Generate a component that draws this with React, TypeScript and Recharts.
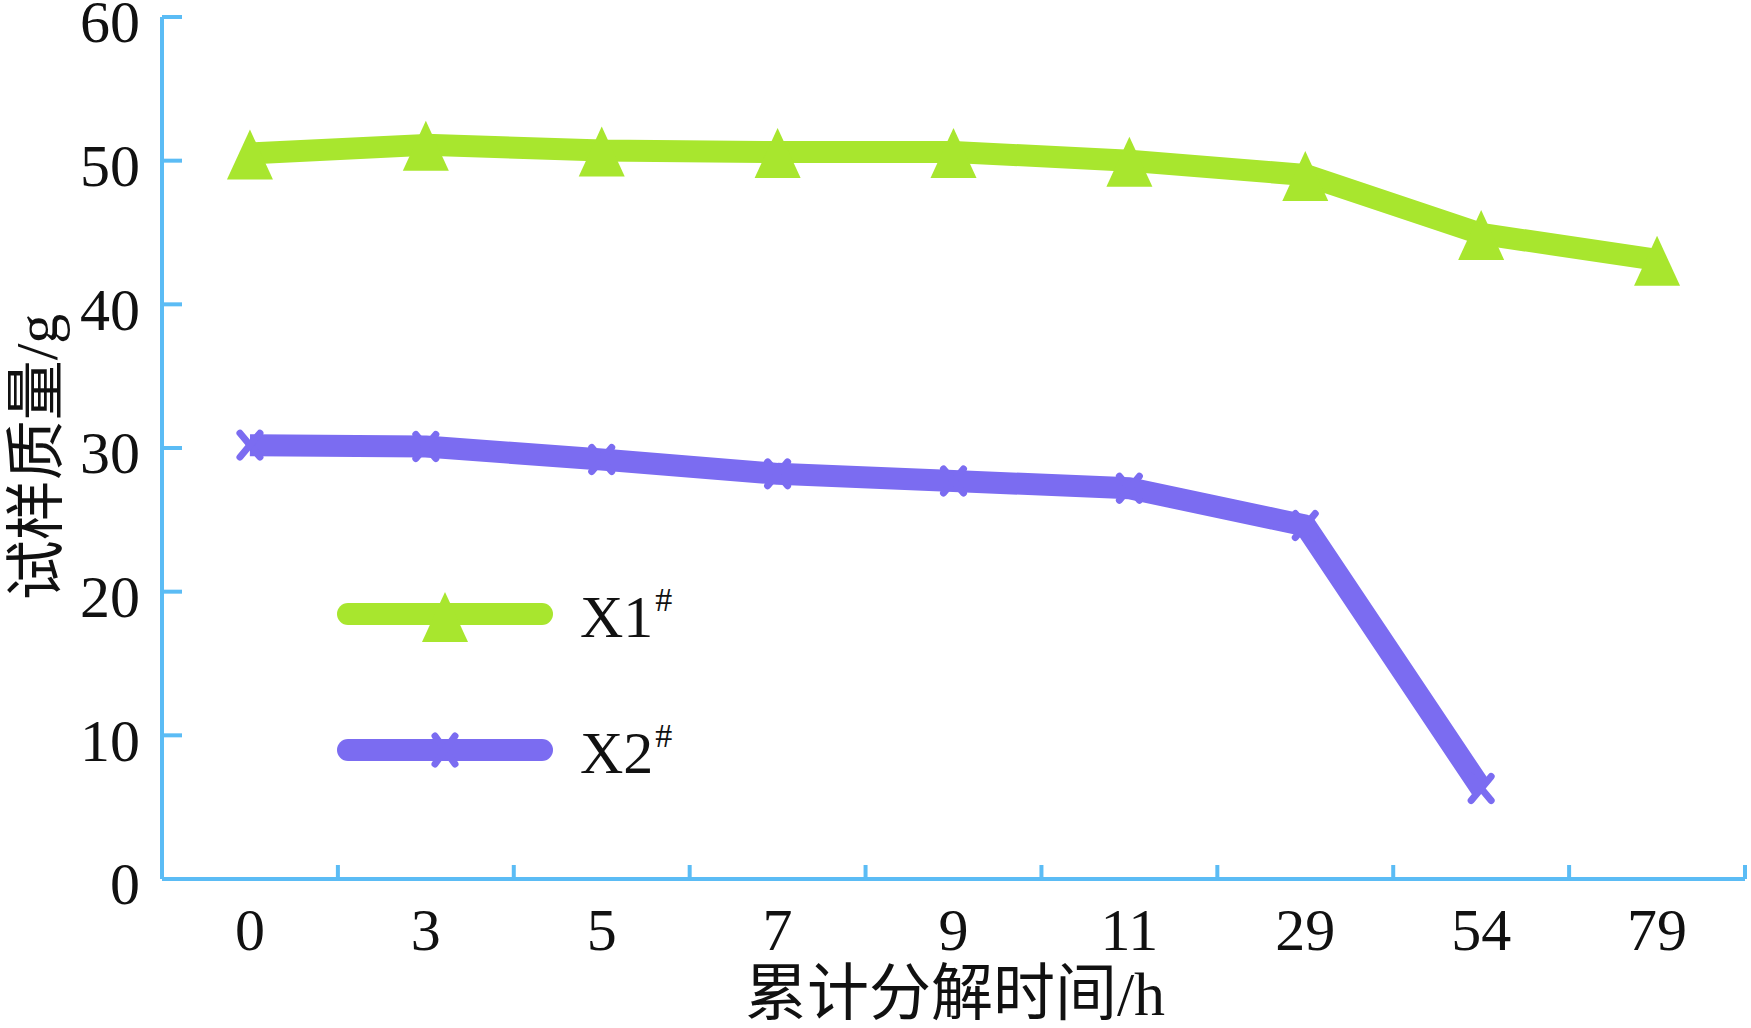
import React from 'react';
import { LineChart, Line, XAxis, YAxis, Legend } from 'recharts';

const categories = ['0', '3', '5', '7', '9', '11', '29', '54', '79'];
const x1Values = [50.5, 51.1, 50.7, 50.6, 50.6, 50.0, 49.0, 44.9, 43.1];
const x2Values = [30.2, 30.1, 29.2, 28.2, 27.7, 27.2, 24.6, 6.3, null];
const yTicks = [0, 10, 20, 30, 40, 50, 60];
const seriesNames = ['X1', 'X2'];

const data = categories.map((t, i) => ({ t, x1: x1Values[i], x2: x2Values[i] }));

const W = 1751;
const H = 1028;
const MARGIN = { top: 17, right: 6, left: 0, bottom: 0 };
const Y_AXIS_W = 162;
const X_AXIS_H = 149;
const BAND = (W - MARGIN.right - Y_AXIS_W) / categories.length;

const GREEN = '#a8e62e';
const PURPLE = '#7b6cf1';
const AXIS = '#5bbcf5';
const FONT = "'Liberation Serif', 'Times New Roman', 'Noto Sans CJK SC', serif";

const triangleDot = (props: any) => {
  const { cx, cy, index } = props;
  if (cx == null || cy == null) return <g key={`t${index}`} />;
  return (
    <polygon
      key={`t${index}`}
      points={`${cx},${cy - 24} ${cx - 23},${cy + 26} ${cx + 23},${cy + 26}`}
      fill={GREEN}
    />
  );
};

const crossDot = (props: any) => {
  const { cx, cy, index } = props;
  if (cx == null || cy == null) return <g key={`c${index}`} />;
  return (
    <g key={`c${index}`} stroke={PURPLE} strokeWidth={7} strokeLinecap="round">
      <line x1={cx - 10} y1={cy - 12} x2={cx + 10} y2={cy + 12} />
      <line x1={cx + 10} y1={cy - 12} x2={cx - 10} y2={cy + 12} />
    </g>
  );
};

const Y_TICK_GAP = 22;
const YTick = (props: any) => {
  const { x, y, payload } = props;
  const ax = x + Y_TICK_GAP;
  return (
    <g>
      <line x1={ax} x2={ax + 20} y1={y} y2={y} stroke={AXIS} strokeWidth={4} />
      <text x={x} y={y} dy="0.42em" textAnchor="end" fontSize={60} fontFamily={FONT} fill="#111">
        {payload.value}
      </text>
    </g>
  );
};

const X_TICK_GAP = 28;
const XTick = (props: any) => {
  const { x, y, payload } = props;
  const ay = y - X_TICK_GAP;
  const bx = x + BAND / 2;
  return (
    <g>
      <line x1={bx} x2={bx} y1={ay} y2={ay - 14} stroke={AXIS} strokeWidth={4} />
      <text x={x} y={y} dy="0.71em" textAnchor="middle" fontSize={60} fontFamily={FONT} fill="#111">
        {payload.value}
      </text>
    </g>
  );
};

const LegendBox = (props: any) => {
  const items = props.payload || [];
  return (
    <div style={{ position: 'relative', width: 420, height: 200 }}>
      {items.map((item: any, i: number) => {
        const isX1 = item.dataKey === 'x1';
        const color = isX1 ? GREEN : PURPLE;
        return (
          <div key={item.value} style={{ position: 'absolute', left: 0, top: i * 136, width: 420, height: 60 }}>
            <svg width={240} height={60} style={{ position: 'absolute', left: 0, top: 0, overflow: 'visible' }}>
              <line x1={21} x2={215} y1={30} y2={30} stroke={color} strokeWidth={22} strokeLinecap="round" />
              {isX1 ? (
                <polygon points="118,8 95,58 141,58" fill={GREEN} />
              ) : (
                <g stroke={PURPLE} strokeWidth={7} strokeLinecap="round">
                  <line x1={108} y1={16} x2={128} y2={44} />
                  <line x1={128} y1={16} x2={108} y2={44} />
                </g>
              )}
            </svg>
            <span
              style={{
                position: 'absolute',
                left: 253,
                top: 3,
                fontFamily: FONT,
                fontSize: 60,
                lineHeight: '60px',
                color: '#111',
                whiteSpace: 'nowrap',
              }}
            >
              {item.value}
              <span style={{ fontSize: 34, position: 'relative', top: -26, marginLeft: 2 }}>#</span>
            </span>
          </div>
        );
      })}
    </div>
  );
};

export default function App() {
  return (
    <div style={{ position: 'absolute', left: 0, top: 0, width: W, height: H, background: '#fff' }}>
      <LineChart width={W} height={H} data={data} margin={MARGIN}>
        <XAxis
          dataKey="t"
          scale="band"
          height={X_AXIS_H}
          axisLine={{ stroke: AXIS, strokeWidth: 4 }}
          tickLine={false}
          tickSize={0}
          tickMargin={X_TICK_GAP}
          tick={<XTick />}
          interval={0}
        />
        <YAxis
          domain={[0, 60]}
          ticks={yTicks}
          width={Y_AXIS_W}
          axisLine={{ stroke: AXIS, strokeWidth: 4 }}
          tickLine={false}
          tickSize={0}
          tickMargin={Y_TICK_GAP}
          tick={<YTick />}
          interval={0}
        />
        <Legend
          layout="horizontal"
          verticalAlign="middle"
          align="center"
          content={<LegendBox />}
          wrapperStyle={{ left: 327, top: 584, width: 420, height: 200 }}
        />
        <Line
          type="linear"
          dataKey="x1"
          name={seriesNames[0]}
          stroke={GREEN}
          strokeWidth={22}
          strokeLinejoin="round"
          dot={triangleDot}
          activeDot={false}
          isAnimationActive={false}
        />
        <Line
          type="linear"
          dataKey="x2"
          name={seriesNames[1]}
          stroke={PURPLE}
          strokeWidth={22}
          strokeLinejoin="round"
          dot={crossDot}
          activeDot={false}
          isAnimationActive={false}
        />
      </LineChart>
      <div
        style={{
          position: 'absolute',
          left: 37,
          top: 457,
          transform: 'translate(-50%, -50%) rotate(-90deg)',
          fontFamily: FONT,
          fontSize: 60,
          lineHeight: 1,
          whiteSpace: 'nowrap',
          color: '#111',
        }}
      >
        试样质量/g
      </div>
      <div
        style={{
          position: 'absolute',
          left: 955,
          top: 994,
          transform: 'translate(-50%, -50%)',
          fontFamily: FONT,
          fontSize: 62,
          lineHeight: 1,
          whiteSpace: 'nowrap',
          color: '#111',
        }}
      >
        累计分解时间/h
      </div>
    </div>
  );
}
